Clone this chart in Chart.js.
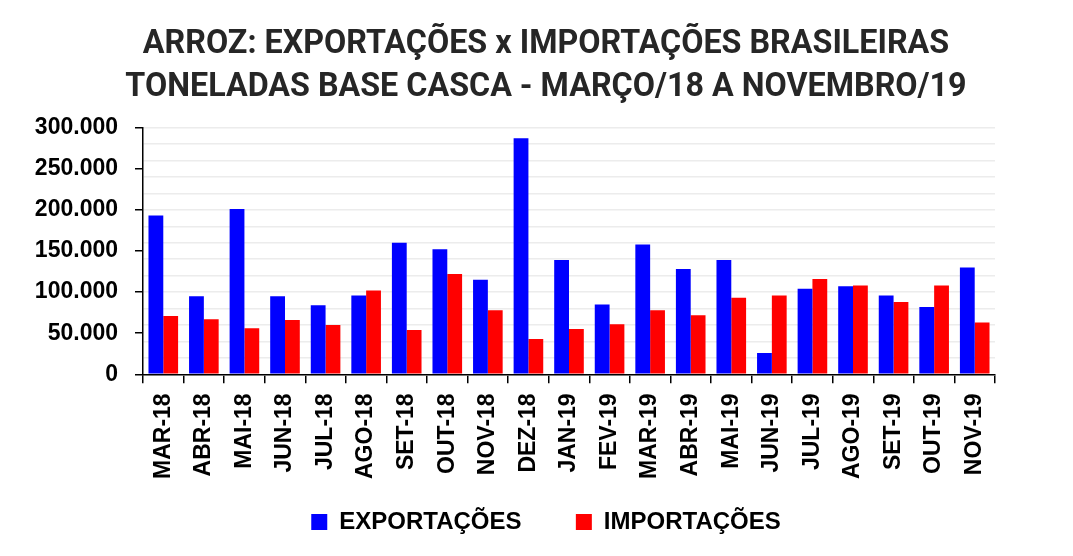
<!DOCTYPE html>
<html>
<head>
<meta charset="utf-8">
<script src="https://cdn.jsdelivr.net/npm/chart.js@4"></script>
<style>
  html, body { margin: 0; padding: 0; background: #fff; }
  #wrap { width: 1073px; height: 556px; }
</style>
</head>
<body>
<div id="wrap"><canvas id="c" width="1073" height="556"></canvas></div>
<script>
const titleLines = ['ARROZ: EXPORTAÇÕES x IMPORTAÇÕES BRASILEIRAS', 'TONELADAS BASE CASCA - MARÇO/18 A NOVEMBRO/19'];
const categories = ['MAR-18','ABR-18','MAI-18','JUN-18','JUL-18','AGO-18','SET-18','OUT-18','NOV-18','DEZ-18','JAN-19','FEV-19','MAR-19','ABR-19','MAI-19','JUN-19','JUL-19','AGO-19','SET-19','OUT-19','NOV-19'];
const exportacoes = [193000, 95000, 201000, 95000, 84000, 96000, 160000, 152000, 115000, 287000, 139000, 85000, 158000, 128000, 139000, 26000, 104000, 107000, 96000, 82000, 130000];
const importacoes = [71000, 67000, 56000, 66000, 60000, 102000, 54000, 122000, 78000, 43000, 55000, 61000, 78000, 72000, 93000, 96000, 116000, 108000, 88000, 108000, 63000];
const seriesNames = ['EXPORTAÇÕES', 'IMPORTAÇÕES'];
const yMin = 0, yMax = 300000, labelStep = 50000, gridStep = 20000, baseStep = 10000;

function fmt(v) {
  return String(Math.round(v)).replace(/\B(?=(\d{3})+(?!\d))/g, '.');
}

const chart = new Chart(document.getElementById('c'), {
  type: 'bar',
  data: {
    labels: categories,
    datasets: [
      { label: seriesNames[0], data: exportacoes, backgroundColor: '#0000ff', borderWidth: 0, yAxisID: 'y' },
      { label: seriesNames[1], data: importacoes, backgroundColor: '#ff0000', borderWidth: 0, yAxisID: 'y' }
    ]
  },
  options: {
    responsive: false,
    animation: false,
    devicePixelRatio: 1,
    categoryPercentage: 0.73,
    barPercentage: 1.0,
    layout: { padding: { left: 30, right: 11, top: 0, bottom: 12 } },
    plugins: {
      title: {
        display: true,
        text: titleLines,
        color: '#262626',
        font: { family: 'Roboto', size: 32.3, weight: 'bold', lineHeight: 1.34 },
        padding: { top: 23, bottom: 18 }
      },
      legend: {
        position: 'bottom',
        labels: {
          color: '#000',
          font: { family: 'Liberation Sans', size: 24, weight: 'bold' },
          boxWidth: 16,
          boxHeight: 16,
          padding: 21,
          generateLabels: function(ch) {
            const items = Chart.defaults.plugins.legend.labels.generateLabels(ch);
            items.forEach((it, i) => {
              it.lineWidth = 0;
              if (i === 0) it.text = it.text + '\u00A0\u00A0\u00A0\u00A0\u00A0';
            });
            return items;
          }
        }
      },
      tooltip: { enabled: false }
    },
    scales: {
      x: {
        grid: {
          offset: true,
          drawOnChartArea: false,
          color: '#000',
          tickLength: 9,
          lineWidth: 1.5
        },
        border: { color: '#000', width: 1.5 },
        ticks: {
          color: '#000',
          font: { family: 'Liberation Sans', size: 23, weight: 'bold' },
          minRotation: 90,
          maxRotation: 90,
          autoSkip: false,
          padding: 10
        }
      },
      y: {
        min: yMin,
        max: yMax,
        afterFit: function(scale) { scale.width = 113; },
        grid: {
          color: function(ctx) {
            const v = ctx.tick ? ctx.tick.value : 0;
            return (v % gridStep === 0) ? '#ececec' : 'rgba(0,0,0,0)';
          },
          tickColor: function(ctx) {
            const v = ctx.tick ? ctx.tick.value : 0;
            return (v % labelStep === 0) ? '#000' : 'rgba(0,0,0,0)';
          },
          lineWidth: 1.5,
          tickLength: 8
        },
        border: { color: '#000', width: 1.5 },
        ticks: {
          stepSize: baseStep,
          autoSkip: false,
          color: '#000',
          font: { family: 'Liberation Sans', size: 23, weight: 'bold' },
          padding: 17,
          callback: function(v) { return (v % labelStep === 0) ? fmt(v) : ''; }
        }
      },
      spacer: {
        type: 'linear',
        position: 'right',
        display: true,
        grid: { display: false, drawTicks: false },
        border: { display: false },
        ticks: { display: false },
        afterFit: function(scale) { scale.width = 67; }
      }
    }
  }
});
</script>
</body>
</html>
